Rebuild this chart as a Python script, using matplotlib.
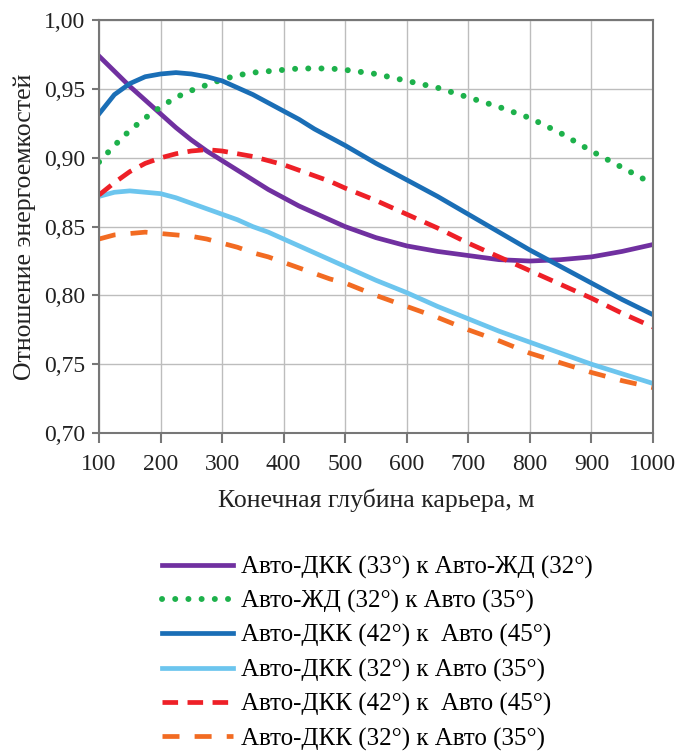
import matplotlib
matplotlib.use("Agg")
import matplotlib.pyplot as plt

plt.rcParams['font.family'] = ['Liberation Serif', 'DejaVu Serif']

# data
depth = [100, 125, 150, 175, 200, 225, 250, 275, 300, 325, 350, 375, 400, 425, 450, 475, 500,
         550, 600, 650, 700, 750, 800, 850, 900, 950, 1000]

dkk33_zhd32 = [0.974, 0.963, 0.952, 0.942, 0.932, 0.922, 0.913, 0.905, 0.898, 0.891, 0.884,
               0.877, 0.871, 0.865, 0.860, 0.855, 0.850,
               0.842, 0.836, 0.832, 0.829, 0.826, 0.825, 0.826, 0.828, 0.832, 0.837]
zhd32_avto35 = [0.897, 0.909, 0.920, 0.929, 0.937, 0.944, 0.949, 0.953, 0.957, 0.960, 0.962,
                0.963, 0.964, 0.965, 0.965, 0.965, 0.964,
                0.961, 0.956, 0.951, 0.944, 0.937, 0.929, 0.918, 0.905, 0.893, 0.881]
dkk42_avto45 = [0.932, 0.946, 0.954, 0.959, 0.961, 0.962, 0.961, 0.959, 0.956, 0.951, 0.946,
                0.940, 0.934, 0.928, 0.921, 0.915, 0.909,
                0.896, 0.884, 0.872, 0.859, 0.846, 0.833, 0.821, 0.809, 0.797, 0.786]
dkk32_avto35 = [0.872, 0.875, 0.876, 0.875, 0.874, 0.871, 0.867, 0.863, 0.859, 0.855, 0.850,
                0.846, 0.841, 0.836, 0.831, 0.826, 0.821,
                0.811, 0.802, 0.792, 0.783, 0.774, 0.766, 0.758, 0.750, 0.743, 0.736]
dkk42_avto45_b = [0.873, 0.882, 0.890, 0.896, 0.900, 0.903, 0.905, 0.906, 0.905, 0.903, 0.901,
                  0.898, 0.895, 0.891, 0.887, 0.883, 0.878,
                  0.869, 0.859, 0.849, 0.838, 0.828, 0.818, 0.808, 0.798, 0.787, 0.777]
dkk32_avto35_b = [0.841, 0.844, 0.845, 0.846, 0.845, 0.844, 0.843, 0.841, 0.838, 0.835, 0.831,
                  0.828, 0.824, 0.820, 0.816, 0.812, 0.809,
                  0.800, 0.792, 0.784, 0.775, 0.767, 0.758, 0.751, 0.744, 0.738, 0.733]

labels = ["Авто-ДКК (33°) к Авто-ЖД (32°)",
          "Авто-ЖД (32°) к Авто (35°)",
          "Авто-ДКК (42°) к  Авто (45°)",
          "Авто-ДКК (32°) к Авто (35°)",
          "Авто-ДКК (42°) к  Авто (45°)",
          "Авто-ДКК (32°) к Авто (35°)"]

fig = plt.figure(figsize=(6.83, 7.53), dpi=100)
ax = fig.add_axes([0.145, 0.425, 0.811, 0.548])

lw = 3.4
ax.plot(depth, dkk33_zhd32, color="#7030A0", lw=lw, label=labels[0])
ax.plot(depth, zhd32_avto35, color="#1DB14B", lw=4.3, linestyle=(0, (0.01, 2.2)),
        dash_capstyle='round', label=labels[1])
ax.plot(depth, dkk42_avto45, color="#1A6EB6", lw=lw, label=labels[2])
ax.plot(depth, dkk32_avto35, color="#6CC5EE", lw=lw, label=labels[3])
ax.plot(depth, dkk42_avto45_b, color="#EE2027", lw=lw, linestyle=(0, (3.3, 2.0)),
        label=labels[4])
ax.plot(depth, dkk32_avto35_b, color="#F26B22", lw=lw, linestyle=(0, (3.6, 3.2)),
        label=labels[5])

ax.set_xlim(100, 1000)
ax.set_ylim(0.70, 1.00)
ax.set_xticks(range(100, 1001, 100))
yt = [0.70, 0.75, 0.80, 0.85, 0.90, 0.95, 1.00]
ax.set_yticks(yt)
ax.set_yticklabels([f"{v:.2f}".replace(".", ",") for v in yt])
ax.grid(True, color="#BDBDBD", lw=1.0)
ax.set_axisbelow(True)
for s in ax.spines.values():
    s.set_color("#777777")
    s.set_linewidth(1.5)
ax.tick_params(axis='both', labelsize=17, colors="#222222", length=5, width=1.5,
               color="#777777")
ax.tick_params(axis='x', length=7, pad=8)
ax.tick_params(axis='y', pad=5)

ax.set_xlabel("Конечная глубина карьера, м", fontsize=18.5, color="#222222", labelpad=10)
ax.set_ylabel("Отношение энергоемкостей", fontsize=18.5, color="#222222", labelpad=6)

fig.legend(loc='upper left', bbox_to_anchor=(162 / 683, 0.262), frameon=False,
           fontsize=18, handlelength=2.85, labelspacing=0.45, handletextpad=0.3,
           borderaxespad=0, borderpad=0)

fig.savefig("out.png", dpi=100)
